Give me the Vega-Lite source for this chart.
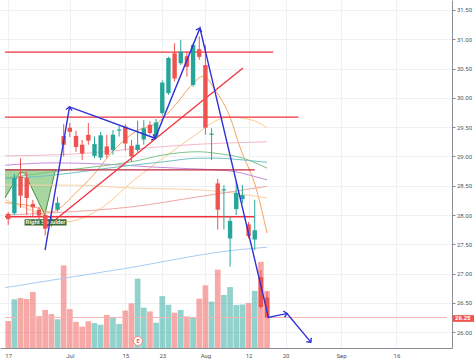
{
  "$schema": "https://vega.github.io/schema/vega-lite/v6.json",
  "width": 452,
  "height": 348,
  "autosize": {"type": "none"},
  "padding": {"left": 0, "top": 0, "right": 22, "bottom": 13},
  "background": "white",
  "config": {"view": {"stroke": null}, "font": "Roboto"},
  "datasets": {
    "k": [
      {"i":0,"o":28.02,"h":28.05,"l":27.83,"c":27.93,"v":0.93},
      {"i":1,"o":28.03,"h":28.70,"l":28.00,"c":28.63,"v":1.68},
      {"i":2,"o":28.66,"h":28.97,"l":28.12,"c":28.33,"v":1.72},
      {"i":3,"o":28.63,"h":28.74,"l":28.00,"c":28.29,"v":1.69},
      {"i":4,"o":28.19,"h":28.26,"l":27.97,"c":28.13,"v":1.93},
      {"i":5,"o":28.09,"h":28.14,"l":27.92,"c":27.99,"v":1.10},
      {"i":6,"o":28.00,"h":28.03,"l":27.65,"c":27.77,"v":1.31},
      {"i":7,"o":27.92,"h":28.00,"l":27.80,"c":27.87,"v":1.17},
      {"i":8,"o":28.09,"h":28.31,"l":28.06,"c":28.21,"v":0.99},
      {"i":9,"o":29.35,"h":29.55,"l":29.00,"c":29.20,"v":2.85},
      {"i":10,"o":29.49,"h":29.57,"l":29.33,"c":29.42,"v":1.34},
      {"i":11,"o":29.35,"h":29.44,"l":29.08,"c":29.16,"v":0.90},
      {"i":12,"o":29.20,"h":29.28,"l":28.94,"c":29.05,"v":0.74},
      {"i":13,"o":29.37,"h":29.57,"l":29.20,"c":29.27,"v":0.92},
      {"i":14,"o":29.01,"h":29.34,"l":28.97,"c":29.21,"v":0.86},
      {"i":15,"o":28.98,"h":29.42,"l":28.94,"c":29.36,"v":0.80},
      {"i":16,"o":29.17,"h":29.37,"l":28.97,"c":29.03,"v":1.14},
      {"i":17,"o":29.11,"h":29.45,"l":29.03,"c":29.37,"v":1.04},
      {"i":18,"o":29.44,"h":29.52,"l":29.34,"c":29.46,"v":0.83},
      {"i":19,"o":29.51,"h":29.55,"l":29.10,"c":29.22,"v":1.29},
      {"i":20,"o":29.18,"h":29.28,"l":28.91,"c":29.00,"v":1.54},
      {"i":21,"o":29.11,"h":29.61,"l":29.08,"c":29.20,"v":2.39},
      {"i":22,"o":29.29,"h":29.62,"l":29.20,"c":29.48,"v":1.39},
      {"i":23,"o":29.54,"h":29.60,"l":29.37,"c":29.40,"v":1.26},
      {"i":24,"o":29.34,"h":29.64,"l":29.30,"c":29.58,"v":0.87},
      {"i":25,"o":29.74,"h":30.30,"l":29.70,"c":30.26,"v":1.79},
      {"i":26,"o":30.08,"h":30.70,"l":30.05,"c":30.68,"v":1.49},
      {"i":27,"o":30.76,"h":30.93,"l":30.28,"c":30.33,"v":1.22},
      {"i":28,"o":30.59,"h":30.99,"l":30.56,"c":30.79,"v":1.31},
      {"i":29,"o":30.71,"h":30.79,"l":30.36,"c":30.53,"v":1.09},
      {"i":30,"o":30.22,"h":30.93,"l":30.19,"c":30.90,"v":1.06},
      {"i":31,"o":30.83,"h":31.05,"l":30.65,"c":30.70,"v":1.70},
      {"i":32,"o":30.56,"h":30.90,"l":29.37,"c":29.49,"v":2.16},
      {"i":33,"o":29.37,"h":29.48,"l":28.94,"c":29.39,"v":1.60},
      {"i":34,"o":28.54,"h":28.62,"l":27.75,"c":28.09,"v":2.70},
      {"i":35,"o":28.42,"h":28.51,"l":27.75,"c":28.44,"v":1.83},
      {"i":36,"o":27.60,"h":27.97,"l":27.12,"c":27.90,"v":2.10},
      {"i":37,"o":28.10,"h":28.57,"l":28.00,"c":28.38,"v":1.48},
      {"i":38,"o":28.27,"h":28.51,"l":28.20,"c":28.34,"v":1.50},
      {"i":39,"o":27.84,"h":27.88,"l":27.60,"c":27.64,"v":1.55},
      {"i":40,"o":27.58,"h":28.26,"l":27.40,"c":27.74,"v":1.97},
      {"i":41,"o":26.94,"h":27.06,"l":26.40,"c":26.43,"v":2.97},
      {"i":42,"o":26.59,"h":26.69,"l":26.24,"c":26.25,"v":1.97}
    ],
    "ma": [
      {"s":"f","i":-0.5,"v":28.21},{"s":"f","i":4.2,"v":28.14},{"s":"f","i":6.9,"v":28.05},{"s":"f","i":9.0,"v":28.17},{"s":"f","i":10.6,"v":28.34},{"s":"f","i":13.8,"v":28.68},{"s":"f","i":16.9,"v":29.08},{"s":"f","i":20.6,"v":29.42},{"s":"f","i":24.4,"v":29.59},{"s":"f","i":26.9,"v":29.85},{"s":"f","i":29.6,"v":30.20},{"s":"f","i":31.7,"v":30.37},{"s":"f","i":33.6,"v":30.13},{"s":"f","i":36.0,"v":29.67},{"s":"f","i":37.6,"v":29.16},{"s":"f","i":40.3,"v":28.43},{"s":"f","i":42.0,"v":27.69},
      {"s":"b","i":-0.5,"v":28.26},{"s":"b","i":5.8,"v":28.0},{"s":"b","i":9.0,"v":27.88},{"s":"b","i":15.4,"v":28.14},{"s":"b","i":20.1,"v":28.57},{"s":"b","i":25.4,"v":28.99},{"s":"b","i":30.8,"v":29.40},{"s":"b","i":33.9,"v":29.62},{"s":"b","i":36.0,"v":29.67},{"s":"b","i":39.6,"v":29.62},{"s":"b","i":42.0,"v":29.49},
      {"s":"pk","i":-0.5,"v":29.01},{"s":"pk","i":10.6,"v":29.04},{"s":"pk","i":21.7,"v":29.14},{"s":"pk","i":31.2,"v":29.21},{"s":"pk","i":42.0,"v":29.25},
      {"s":"pu","i":-0.5,"v":28.85},{"s":"pu","i":7.4,"v":28.89},{"s":"pu","i":15.4,"v":28.87},{"s":"pu","i":23.3,"v":28.82},{"s":"pu","i":29.6,"v":28.79},{"s":"pu","i":33.6,"v":28.77},{"s":"pu","i":36.8,"v":28.74},{"s":"pu","i":39.2,"v":28.68},{"s":"pu","i":42.0,"v":28.60},
      {"s":"g","i":-0.5,"v":28.63},{"s":"g","i":7.4,"v":28.74},{"s":"g","i":15.4,"v":28.84},{"s":"g","i":20.1,"v":28.91},{"s":"g","i":25.4,"v":29.03},{"s":"g","i":30.8,"v":29.08},{"s":"g","i":33.9,"v":29.05},{"s":"g","i":38.1,"v":28.97},{"s":"g","i":42.0,"v":28.80},
      {"s":"t","i":-0.5,"v":28.62},{"s":"t","i":8.2,"v":28.69},{"s":"t","i":15.4,"v":28.79},{"s":"t","i":20.1,"v":28.85},{"s":"t","i":25.4,"v":28.91},{"s":"t","i":30.8,"v":28.97},{"s":"t","i":33.9,"v":28.97},{"s":"t","i":38.1,"v":28.94},{"s":"t","i":42.0,"v":28.90},
      {"s":"lb","i":-0.5,"v":26.76},{"s":"lb","i":18.5,"v":27.08},{"s":"lb","i":37.6,"v":27.41},{"s":"lb","i":42.0,"v":27.45},
      {"s":"tn","i":-0.5,"v":28.51},{"s":"tn","i":10.6,"v":28.51},{"s":"tn","i":20.1,"v":28.46},{"s":"tn","i":30.8,"v":28.43},{"s":"tn","i":36.0,"v":28.38},{"s":"tn","i":42.0,"v":28.29},
      {"s":"sa","i":-0.5,"v":28.0},{"s":"sa","i":7.4,"v":28.04},{"s":"sa","i":20.1,"v":28.14},{"s":"sa","i":30.8,"v":28.31},{"s":"sa","i":42.0,"v":28.49}
    ],
    "hl": [
      {"id":"h1","i":-0.52,"p":30.78},{"id":"h1","i":43.0,"p":30.78},
      {"id":"h2","i":-0.52,"p":29.67},{"id":"h2","i":47.1,"p":29.67},
      {"id":"h3","i":-0.52,"p":28.77},{"id":"h3","i":40.0,"p":28.77},
      {"id":"h4","i":-0.52,"p":27.97},{"id":"h4","i":40.0,"p":27.97},
      {"id":"tr","i":5.98,"p":27.78},{"id":"tr","i":38.09,"p":30.51}
    ],
    "blue": [
      {"i":5.98,"p":27.40},{"i":9.95,"p":29.845},{"i":23.84,"p":29.31},{"i":31.11,"p":31.19},{"i":42.22,"p":26.25},{"i":45.24,"p":26.32},{"i":49.11,"p":25.83}
    ],
    "tips": [
      {"a":"a1","i":9.95,"p":29.845},{"a":"a2","i":23.84,"p":29.31},{"a":"a3","i":31.11,"p":31.19},{"a":"a5","i":45.24,"p":26.32},{"a":"a6","i":49.11,"p":25.83}
    ],
    "tri": [
      {"i":-0.52,"lo":28.29,"hi":28.78},{"i":1.86,"lo":28.72,"hi":28.78},{"i":2.65,"lo":28.72,"hi":28.78},{"i":5.93,"lo":28.0,"hi":28.78},{"i":7.68,"lo":28.78,"hi":28.78}
    ],
    "last": [{"i":-0.52,"p":26.25},{"i":71.2,"p":26.25}]
  },
  "encoding": {
    "x": {"field": "i", "type": "quantitative",
      "scale": {"domain": [-0.52, 71.2], "nice": false, "zero": false},
      "axis": {"values": [0,10,19,25,32,39,45,54,63],
        "labelExpr": "datum.value==0?'17':datum.value==10?'Jul':datum.value==19?'15':datum.value==25?'23':datum.value==32?'Aug':datum.value==39?'12':datum.value==45?'20':datum.value==54?'Sep':'16'",
        "title": null, "grid": true, "gridColor": "#eef0f3", "ticks": false, "domainColor": "#8a8d96",
        "labelFontSize": 6, "labelColor": "#50535e", "labelPadding": 4, "labelFont": "Roboto"}}
  },
  "layer": [
    {
      "data": {"name": "k"},
      "mark": {"type": "bar", "size": 5.7, "opacity": 0.5},
      "encoding": {
        "y": {"field": "v", "type": "quantitative", "scale": {"domain": [0, 12], "nice": false}, "axis": null},
        "color": {"condition": {"test": "datum.c >= datum.o", "value": "#26a69a"}, "value": "#ef5350"}
      }
    },
    {
      "data": {"name": "last"},
      "mark": {"type": "line", "color": "#f7b4b2", "strokeWidth": 1},
      "encoding": {
        "y": {"field": "p", "type": "quantitative", "scale": {"domain": [25.73, 31.67], "nice": false, "zero": false},
          "axis": {"orient": "right", "values": [26.25], "format": ".2f", "title": null, "grid": false, "domain": false,
            "tickSize": 22, "tickWidth": 6.7, "tickColor": "#ef5350", "labelColor": "white", "labelFontWeight": "bold",
            "labelFontSize": 6, "labelPadding": -19.5, "labelFont": "Roboto", "labelAlign": "left", "zindex": 2}}
      }
    },
    {
      "data": {"name": "tri"},
      "mark": {"type": "area", "color": "#6dbb63", "opacity": 0.6},
      "encoding": {
        "y": {"field": "lo", "type": "quantitative", "scale": {"domain": [25.73, 31.67], "nice": false, "zero": false}, "axis": null},
        "y2": {"field": "hi"}
      }
    },
    {
      "data": {"name": "tri"},
      "mark": {"type": "line", "color": "#4c8a43", "strokeWidth": 1},
      "encoding": {
        "y": {"field": "lo", "type": "quantitative", "scale": {"domain": [25.73, 31.67], "nice": false, "zero": false}, "axis": null}
      }
    },
    {
      "data": {"name": "ma"},
      "mark": {"type": "line", "strokeWidth": 1, "interpolate": "monotone"},
      "encoding": {
        "y": {"field": "v", "type": "quantitative", "scale": {"domain": [25.73, 31.67], "nice": false, "zero": false}, "axis": null},
        "color": {"field": "s", "type": "nominal", "legend": null,
          "scale": {"domain": ["f","b","pk","pu","g","t","lb","tn","sa"],
            "range": ["#f5a55a","#fbc98c","#f4b8c8","#c68be0","#7cc48a","#6fc2c0","#a9ccf2","#f9d3a5","#f0a8a0"]}}
      }
    },
    {
      "data": {"name": "hl"},
      "mark": {"type": "line", "strokeWidth": 1.3},
      "encoding": {
        "y": {"field": "p", "type": "quantitative", "scale": {"domain": [25.73, 31.67], "nice": false, "zero": false}, "axis": null},
        "detail": {"field": "id"},
        "color": {"condition": {"test": "datum.id=='h3'", "value": "#c2273f"}, "value": "#f0323f"}
      }
    },
    {
      "data": {"name": "k"},
      "mark": {"type": "rule", "strokeWidth": 1},
      "encoding": {
        "y": {"field": "l", "type": "quantitative", "scale": {"domain": [25.73, 31.67], "nice": false, "zero": false},
          "axis": {"orient": "right", "values": [26,26.5,27,27.5,28,28.5,29,29.5,30,30.5,31,31.5], "format": ".2f", "title": null,
            "grid": true, "gridColor": "#eef0f3", "domainColor": "#8a8d96", "tickColor": "#8a8d96", "tickSize": 3,
            "labelPadding": 1.5, "labelFontSize": 6, "labelColor": "#50535e", "labelFont": "Roboto"}},
        "y2": {"field": "h"},
        "color": {"condition": {"test": "datum.c >= datum.o", "value": "#26a69a"}, "value": "#ef5350"}
      }
    },
    {
      "data": {"name": "k"},
      "mark": {"type": "bar", "size": 4.4},
      "encoding": {
        "y": {"field": "o", "type": "quantitative", "scale": {"domain": [25.73, 31.67], "nice": false, "zero": false}, "axis": null},
        "y2": {"field": "c"},
        "color": {"condition": {"test": "datum.c >= datum.o", "value": "#26a69a"}, "value": "#ef5350"}
      }
    },
    {
      "data": {"values": [{"i": 6.06, "p": 27.875, "t": "Right Shoulder"}]},
      "mark": {"type": "point", "shape": "M -1 -0.15 L 1 -0.15 L 1 0.15 L -1 0.15 Z", "size": 1764, "filled": true, "color": "#3d6b36", "opacity": 1},
      "encoding": {
        "y": {"field": "p", "type": "quantitative", "scale": {"domain": [25.73, 31.67], "nice": false, "zero": false}, "axis": null}
      }
    },
    {
      "data": {"values": [{"i": 6.06, "p": 27.875, "t": "Right Shoulder"}]},
      "mark": {"type": "text", "fontSize": 6, "color": "#e8f2e4", "font": "Roboto", "fontWeight": "bold"},
      "encoding": {
        "y": {"field": "p", "type": "quantitative", "scale": {"domain": [25.73, 31.67], "nice": false, "zero": false}, "axis": null},
        "text": {"field": "t"}
      }
    },
    {
      "data": {"name": "k"},
      "transform": [{"filter": "datum.i == 6"}],
      "mark": {"type": "bar", "size": 4.4, "color": "#ef5350"},
      "encoding": {
        "y": {"field": "o", "type": "quantitative", "scale": {"domain": [25.73, 31.67], "nice": false, "zero": false}, "axis": null},
        "y2": {"field": "c"}
      }
    },
    {
      "data": {"name": "blue"},
      "mark": {"type": "line", "color": "#2f33d6", "strokeWidth": 1.4},
      "encoding": {
        "y": {"field": "p", "type": "quantitative", "scale": {"domain": [25.73, 31.67], "nice": false, "zero": false}, "axis": null}
      }
    },
    {
      "data": {"name": "tips"}, "transform": [{"filter": "datum.a=='a1'"}],
      "mark": {"type": "point", "shape": "M -1 1 L 0 0 L 1 1", "size": 40, "filled": false, "color": "#2f33d6", "strokeWidth": 1.4, "opacity": 1, "angle": 10},
      "encoding": {"y": {"field": "p", "type": "quantitative", "scale": {"domain": [25.73, 31.67], "nice": false, "zero": false}, "axis": null}}
    },
    {
      "data": {"name": "tips"}, "transform": [{"filter": "datum.a=='a2'"}],
      "mark": {"type": "point", "shape": "M -1 1 L 0 0 L 1 1", "size": 40, "filled": false, "color": "#2f33d6", "strokeWidth": 1.4, "opacity": 1, "angle": 109},
      "encoding": {"y": {"field": "p", "type": "quantitative", "scale": {"domain": [25.73, 31.67], "nice": false, "zero": false}, "axis": null}}
    },
    {
      "data": {"name": "tips"}, "transform": [{"filter": "datum.a=='a3'"}],
      "mark": {"type": "point", "shape": "M -1 1 L 0 0 L 1 1", "size": 40, "filled": false, "color": "#2f33d6", "strokeWidth": 1.4, "opacity": 1, "angle": 22},
      "encoding": {"y": {"field": "p", "type": "quantitative", "scale": {"domain": [25.73, 31.67], "nice": false, "zero": false}, "axis": null}}
    },
    {
      "data": {"name": "tips"}, "transform": [{"filter": "datum.a=='a5'"}],
      "mark": {"type": "point", "shape": "M -1 1 L 0 0 L 1 1", "size": 40, "filled": false, "color": "#2f33d6", "strokeWidth": 1.4, "opacity": 1, "angle": 78},
      "encoding": {"y": {"field": "p", "type": "quantitative", "scale": {"domain": [25.73, 31.67], "nice": false, "zero": false}, "axis": null}}
    },
    {
      "data": {"name": "tips"}, "transform": [{"filter": "datum.a=='a6'"}],
      "mark": {"type": "point", "shape": "M -1 1 L 0 0 L 1 1", "size": 40, "filled": false, "color": "#2f33d6", "strokeWidth": 1.4, "opacity": 1, "angle": 140},
      "encoding": {"y": {"field": "p", "type": "quantitative", "scale": {"domain": [25.73, 31.67], "nice": false, "zero": false}, "axis": null}}
    },
    {
      "data": {"values": [{"i": 21.06, "p": 25.85, "t": "E"}]},
      "mark": {"type": "point", "shape": "circle", "size": 80, "filled": true, "fill": "white", "stroke": "#f08a8a", "strokeWidth": 1, "opacity": 1},
      "encoding": {"y": {"field": "p", "type": "quantitative", "scale": {"domain": [25.73, 31.67], "nice": false, "zero": false}, "axis": null}}
    },
    {
      "data": {"values": [{"i": 21.06, "p": 25.85, "t": "E"}]},
      "mark": {"type": "text", "fontSize": 5.5, "color": "#ef5350", "fontWeight": "bold", "font": "Roboto"},
      "encoding": {
        "y": {"field": "p", "type": "quantitative", "scale": {"domain": [25.73, 31.67], "nice": false, "zero": false}, "axis": null},
        "text": {"field": "t"}
      }
    }
  ],
  "resolve": {"scale": {"y": "independent"}}
}
